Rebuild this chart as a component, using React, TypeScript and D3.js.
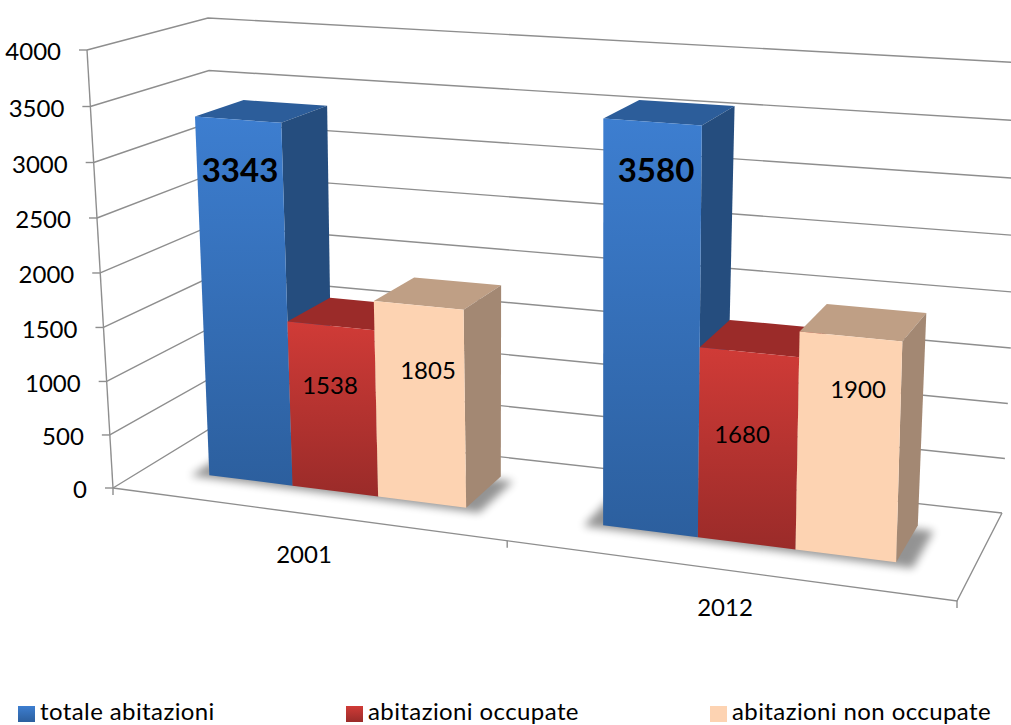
import React from 'react';
import * as d3 from 'd3';

const categories = ['2001', '2012'];
const seriesNames = ['totale abitazioni', 'abitazioni occupate', 'abitazioni non occupate'];
const totale = [3343, 3580];
const occupate = [1538, 1680];
const nonOccupate = [1805, 1900];
const yTicks = [0, 500, 1000, 1500, 2000, 2500, 3000, 3500, 4000];

const WIDTH = 1011;
const HEIGHT = 725;
const FONT = 'Lato, "Noto Sans", sans-serif';

// corners of the 3d box as they land on the page: [front, back] x [left, right]
const floorFL = [113, 488];
const floorFR = [957, 601];
const floorBL = [216, 425];
const floorBR = [1002, 513];
const topFL = [87, 50];
const topFR = [970, 108];
const topBL = [208, 18];
const topBR = [1026, 63];

const BAR_FRONT = 0.33;
const BAR_BACK = 0.76;
const BAR_SHIFT = 0.002;

const mix = (a: number[], b: number[], t: number) => [a[0] + (b[0] - a[0]) * t, a[1] + (b[1] - a[1]) * t];
// foreshortening along the width and the height of the box
const warp = (t: number, w: number) => t / (t + (1 - t) * w);

const y = d3.scaleLinear().domain([0, 4000]).range([0, 1]);
const xBand = d3.scaleBand().domain(categories).range([0, 1]).paddingInner(1 / 3).paddingOuter(1 / 6);
const serieBand = d3.scaleBand().domain(seriesNames).range([0, xBand.bandwidth()]);

// s: across the chart, d: into the chart, v: value
const project = (s: number, d: number, v: number) => {
  const u = warp(s, 1.141);
  const h = warp(y(v), 1.037);
  const bottom = mix(mix(floorFL, floorFR, u), mix(floorBL, floorBR, u), d);
  const top = mix(mix(topFL, topFR, u), mix(topBL, topBR, u), d);
  return mix(bottom, top, h);
};

const line = d3.line();
const poly = (pts: number[][]) => line(pts as [number, number][]) + 'Z';

const series = [
  { name: seriesNames[0], values: totale, id: 'blue', top: '#2c5d9a', side: '#254d7e', from: '#3d7ed0', to: '#2c5f9e' },
  { name: seriesNames[1], values: occupate, id: 'red', top: '#9b2b29', side: '#7f2322', from: '#d03b37', to: '#9a2b29' },
  { name: seriesNames[2], values: nonOccupate, id: 'peach', top: '#bf9f85', side: '#a38873', from: '#fdd3b2', to: '#fdd3b2' },
];

// data labels sit where they were placed by hand in the original
const labelPos = [
  [[240, 170], [656, 170]],
  [[330, 386], [742, 435]],
  [[428, 371], [858, 390]],
];
const labelSize = [33, 24, 24];
const legendX = [18, 346, 710];
const catLabelPos = [[304, 555], [725, 608]];
const GRID = '#8e8e8e';

function Bar({ cat, s }: { cat: string; s: (typeof series)[number] }) {
  const i = categories.indexOf(cat);
  const v = s.values[i];
  const s0 = xBand(cat)! + serieBand(s.name)! + BAR_SHIFT;
  const s1 = s0 + serieBand.bandwidth();
  const fb = project(s0, BAR_FRONT, 0);
  const fbr = project(s1, BAR_FRONT, 0);
  const ft = project(s0, BAR_FRONT, v);
  const ftr = project(s1, BAR_FRONT, v);
  const bbr = project(s1, BAR_BACK, 0);
  const btr = project(s1, BAR_BACK, v);
  const btl = project(s0, BAR_BACK, v);
  return (
    <g>
      <path d={poly([ft, ftr, btr, btl])} fill={s.top} />
      <path d={poly([fbr, ftr, btr, bbr])} fill={s.side} />
      <path d={poly([fb, fbr, ftr, ft])} fill={`url(#grad-${s.id})`} />
    </g>
  );
}

export default function App() {
  return (
    <svg width={WIDTH} height={HEIGHT} style={{ position: 'absolute', left: 0, top: 0, background: '#fff' }} fontFamily={FONT}>
      <defs>
        {series.map((s) => (
          <linearGradient key={s.id} id={`grad-${s.id}`} x1="0" y1="0" x2="0" y2="1">
            <stop offset="0" stopColor={s.from} />
            <stop offset="1" stopColor={s.to} />
          </linearGradient>
        ))}
        <filter id="blur" x="-20%" y="-30%" width="140%" height="160%">
          <feGaussianBlur stdDeviation="4" />
        </filter>
      </defs>

      {/* walls and floor */}
      <g stroke={GRID} strokeWidth={1.4} fill="none">
        {yTicks.map((t) => {
          const a = project(0, 0, t);
          const b = project(0, 1, t);
          const c = project(1, 1, t);
          return <path key={t} d={line([a, b, c] as [number, number][])!} />;
        })}
        <path d={line([project(0, 0, 0), project(0, 0, 4000)] as [number, number][])!} />
        <path d={line([project(0, 0, 0), project(1, 0, 0), project(1, 1, 0)] as [number, number][])!} />
        {yTicks.map((t) => {
          const a = project(0, 0, t);
          return <path key={t} d={`M${a[0] - 8},${a[1]}H${a[0]}`} />;
        })}
        {[0, 0.5, 1].map((s) => {
          const a = project(s, 0, 0);
          return <path key={s} d={`M${a[0]},${a[1]}v7`} />;
        })}
      </g>

      {/* shadows under each group */}
      {categories.map((c) => {
        const s0 = xBand(c)! - 0.018;
        const s1 = xBand(c)! + xBand.bandwidth() + 0.022;
        return (
          <path
            key={c}
            d={poly([project(s0, 0.29, 0), project(s1, 0.29, 0), project(s1, 0.72, 0), project(s0, 0.72, 0)])}
            fill="#000"
            opacity={0.42}
            filter="url(#blur)"
          />
        );
      })}

      {categories.map((c) => (
        <g key={c}>
          {series.map((s) => (
            <Bar key={s.id} cat={c} s={s} />
          ))}
        </g>
      ))}

      {/* axis labels */}
      {yTicks.map((t) => {
        const a = project(0, 0, t);
        return (
          <text key={t} x={a[0] - 26} y={a[1] + 2} dy="0.35em" textAnchor="end" fontSize={24} fill="#000">
            {t}
          </text>
        );
      })}
      {categories.map((c, i) => (
        <text key={c} x={catLabelPos[i][0]} y={catLabelPos[i][1]} dy="0.35em" textAnchor="middle" fontSize={24} fill="#000">
          {c}
        </text>
      ))}

      {/* data labels */}
      {series.map((s, si) =>
        s.values.map((v, i) => (
          <text
            key={s.id + i}
            x={labelPos[si][i][0]}
            y={labelPos[si][i][1]}
            dy="0.35em"
            textAnchor="middle"
            fontSize={labelSize[si]}
            fontWeight={si === 0 ? 700 : 400}
            fill="#000"
          >
            {v}
          </text>
        )),
      )}

      {/* legend */}
      {series.map((s, i) => (
        <g key={s.id}>
          <rect x={legendX[i]} y={706} width={17} height={16} fill={`url(#grad-${s.id})`} />
          <text x={legendX[i] + 22} y={720} fontSize={24} fill="#000" letterSpacing={0.4}>
            {s.name}
          </text>
        </g>
      ))}
    </svg>
  );
}
